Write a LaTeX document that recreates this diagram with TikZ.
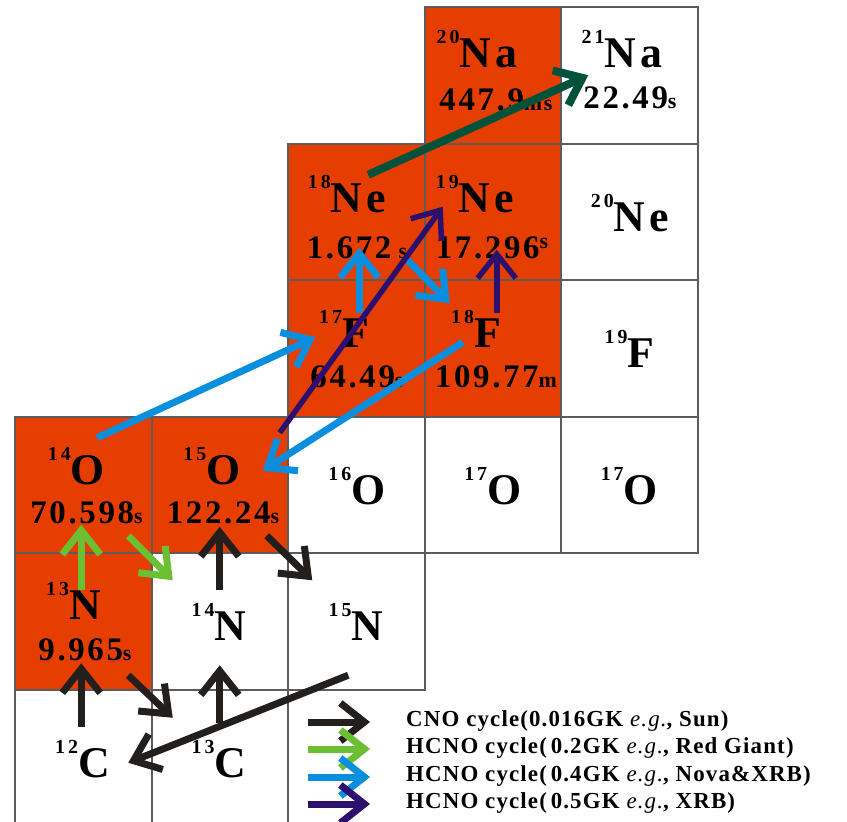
\documentclass[tikz,border=0pt]{standalone}
\usepackage{fontspec}
\setmainfont{Liberation Serif}
\newfontfamily\symfont[LetterSpace=10]{Liberation Serif}
\newfontfamily\lifefont[LetterSpace=8]{Liberation Serif}
\newfontfamily\massfont[LetterSpace=15]{Liberation Serif}
\newfontfamily\legfont[LetterSpace=5]{Liberation Serif}
\usepackage{xcolor}
\definecolor{hot}{HTML}{E63E00}
\definecolor{frame}{HTML}{5C5C5C}
\definecolor{cnoink}{HTML}{231F1C}
\definecolor{giant}{HTML}{6CBF33}
\definecolor{nova}{HTML}{0A8FDF}
\definecolor{xrb}{HTML}{2D0F6E}
\definecolor{breakout}{HTML}{00533A}
\usepackage{tikz}
\usetikzlibrary{arrows.meta}

% mass number raised before the symbol, unit set smaller
\newcommand{\iso}[2]{{\massfont\fontsize{20}{20}\selectfont\raisebox{24bp}{#1}}#2}
\newcommand{\hl}[2]{#1{\fontsize{22}{22}\selectfont #2}}

\begin{document}
\begin{tikzpicture}[x=1bp,y=-1bp,every node/.style={font=\bfseries},
  cell/.style={draw=frame,line width=2bp,minimum size=136.5bp,inner sep=0pt},
  hotcell/.style={cell,fill=hot},
  sym/.style={font=\symfont\fontsize{44}{44}\selectfont\bfseries,anchor=base,inner sep=0pt},
  life/.style={font=\lifefont\fontsize{33}{33}\selectfont\bfseries,anchor=base,inner sep=0pt},
  legtext/.style={font=\legfont\fontsize{23}{23}\selectfont\bfseries,anchor=base west,inner sep=0pt},
  flow/.style={line width=7bp,-{Straight Barb[length=24bp,width=38bp]}},
  cno/.style={flow,cnoink},
  hcnoa/.style={flow,giant},
  hcnob/.style={flow,nova},
  hcnoc/.style={flow,xrb,line width=5.5bp},
  escape/.style={flow,breakout,line width=8bp}]
\useasboundingbox (0,0) rectangle (847,822);
% chart of nuclides
\node[hotcell] (na20) at (492.75,75.25) {};
\node[cell] (na21) at (629.25,75.25) {};
\node[hotcell] (ne18) at (356.25,211.75) {};
\node[hotcell] (ne19) at (492.75,211.75) {};
\node[cell] (ne20) at (629.25,211.75) {};
\node[hotcell] (f17) at (356.25,348.25) {};
\node[hotcell] (f18) at (492.75,348.25) {};
\node[cell] (f19) at (629.25,348.25) {};
\node[hotcell] (o14) at (83.25,484.75) {};
\node[hotcell] (o15) at (219.75,484.75) {};
\node[cell] (o16) at (356.25,484.75) {};
\node[cell] (o17a) at (492.75,484.75) {};
\node[cell] (o17b) at (629.25,484.75) {};
\node[hotcell] (n13) at (83.25,621.25) {};
\node[cell] (n14) at (219.75,621.25) {};
\node[cell] (n15) at (356.25,621.25) {};
\node[cell] (c12) at (83.25,757.75) {};
\node[cell] (c13) at (219.75,757.75) {};
% labels
\node[sym] (na20s) at (477,68) {\iso{20}{Na}};
\node[life] (na20t) at (496,110) {\hl{447.9}{ms}};
\node[sym] (na21s) at (622,68) {\iso{21}{Na}};
\node[life] (na21t) at (630,108) {\hl{22.49}{s}};
\node[sym] (ne18s) at (347,212) {\iso{18}{Ne}};
\node[life] (ne18t) at (357,258) {\hl{1.672}{ s}};
\node[sym] (ne19s) at (475,212) {\iso{19}{Ne}};
\node[life] (ne19t) at (492,258) {\hl{17.296}{\raisebox{10bp}{s}}};
\node[sym] (ne20s) at (630,231) {\iso{20}{Ne}};
\node[sym] (f17s) at (344,347) {\iso{17}{F}};
\node[life] (f17t) at (357,387) {\hl{64.49}{s}};
\node[sym] (f18s) at (476,347) {\iso{18}{F}};
\node[life] (f18t) at (496,387) {\hl{109.77}{m}};
\node[sym] (f19s) at (629.5,367) {\iso{19}{F}};
\node[sym] (o14s) at (76.5,484) {\iso{14}{O}};
\node[life] (o14t) at (86.5,523) {\hl{70.598}{s}};
\node[sym] (o15s) at (212,484) {\iso{15}{O}};
\node[life] (o15t) at (223,523) {\hl{122.24}{s}};
\node[sym] (o16s) at (357,504) {\iso{16}{O}};
\node[sym] (o17as) at (492.75,504) {\iso{17}{O}};
\node[sym] (o17bs) at (629.25,504) {\iso{17}{O}};
\node[sym] (n13s) at (73.5,619) {\iso{13}{N}};
\node[life] (n13t) at (85,660) {\hl{9.965}{s}};
\node[sym] (n14s) at (219,640) {\iso{14}{N}};
\node[sym] (n15s) at (356,640) {\iso{15}{N}};
\node[sym] (c12s) at (82.5,777) {\iso{12}{C}};
\node[sym] (c13s) at (219,777) {\iso{13}{C}};
% reactions
\draw[cno] ([shift={(-2,-31)}]c12.center) -- ([shift={(-2,42)}]n13.center);
\draw[cno] ([shift={(45,54)}]n13.center) -- ([shift={(-47,-40)}]c13.center);
\draw[cno] ([shift={(0,-35)}]c13.center) -- ([shift={(0,44)}]n14.center);
\draw[cno] ([shift={(0,-31)}]n14.center) -- ([shift={(0,42)}]o15.center);
\draw[cno] ([shift={(47,51)}]o15.center) -- ([shift={(-44,-41)}]n15.center);
\draw[cno] ([shift={(-8,54)}]n15.center) -- ([shift={(45,5)}]c12.center);
\draw[hcnoa] ([shift={(-2,-31)}]n13.center) -- ([shift={(-2,40)}]o14.center);
\draw[hcnoa] ([shift={(45,51)}]o14.center) -- ([shift={(-47,-41)}]n14.center);
\draw[hcnob] ([shift={(14,-47)}]o14.center) -- ([shift={(-41,-11)}]f17.center);
\draw[hcnob] ([shift={(3,-35)}]f17.center) -- ([shift={(3,36)}]ne18.center);
\draw[hcnob] ([shift={(51,48)}]ne18.center) -- ([shift={(-43,-45)}]f18.center);
\draw[hcnob] ([shift={(-30,-6)}]f18.center) -- ([shift={(43,-14)}]o15.center);
\draw[hcnoc] ([shift={(60,-52)}]o15.center) -- ([shift={(-50,-5)}]ne19.center);
\draw[hcnoc] ([shift={(4,-35)}]f18.center) -- ([shift={(4,38)}]ne19.center);
\draw[escape] ([shift={(12,-37)}]ne18.center) -- ([shift={(-41,0)}]na21.center);
% legend
\node[legtext] (leg1) at (406,726) {CNO cycle(0.016GK \textit{\mdseries e.g.}, Sun)};
\node[legtext] (leg2) at (406,753) {HCNO cycle(\,0.2GK \textit{\mdseries e.g.}, Red Giant)};
\node[legtext] (leg3) at (406,781) {HCNO cycle(\,0.4GK \textit{\mdseries e.g.}, Nova\&XRB)};
\node[legtext] (leg4) at (406,808) {HCNO cycle(\,0.5GK \textit{\mdseries e.g.}, XRB)};
\coordinate (k1) at (308,722);
\coordinate (k2) at (308,749);
\coordinate (k3) at (308,777);
\coordinate (k4) at (308,804);
\draw[cno] (k1) -- ([shift={(-36,-4)}]leg1.base west);
\draw[hcnoa] (k2) -- ([shift={(-36,-4)}]leg2.base west);
\draw[hcnob] (k3) -- ([shift={(-36,-4)}]leg3.base west);
\draw[hcnoc,line width=7bp] (k4) -- ([shift={(-36,-4)}]leg4.base west);
\end{tikzpicture}
\end{document}
